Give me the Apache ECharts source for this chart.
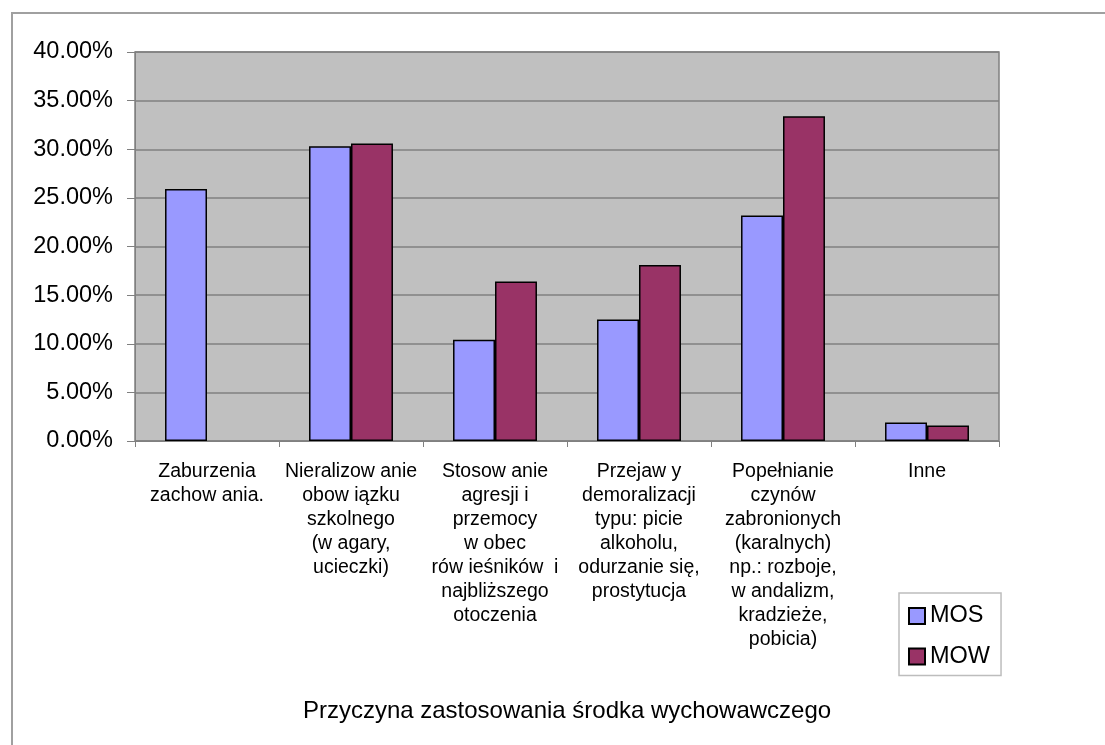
<!DOCTYPE html>
<html>
<head>
<meta charset="utf-8">
<script src="https://cdn.jsdelivr.net/npm/echarts@6/dist/echarts.min.js"></script>
<style>
  html, body { margin: 0; padding: 0; background: #ffffff; }
  #chart { width: 1105px; height: 745px; }
</style>
</head>
<body>
<div id="chart"></div>
<script>
const categories = [
  "Zaburzenia\nzachow ania.",
  "Nieralizow anie\nobow iązku\nszkolnego\n(w agary,\nucieczki)",
  "Stosow anie\nagresji i\nprzemocy\nw obec\nrów ieśników  i\nnajbliższego\notoczenia",
  "Przejaw y\ndemoralizacji\ntypu: picie\nalkoholu,\nodurzanie się,\nprostytucja",
  "Popełnianie\nczynów\nzabronionych\n(karalnych)\nnp.: rozboje,\nw andalizm,\nkradzieże,\npobicia)",
  "Inne"
];
const seriesNames = ["MOS", "MOW"];
const mosValues = [25.9, 30.3, 10.4, 12.5, 23.2, 1.9];
const mowValues = [null, 30.6, 16.4, 18.1, 33.4, 1.6];
const yTicks = { min: 0, max: 40, interval: 5 };
const xAxisTitle = "Przyczyna zastosowania środka wychowawczego";

const FONT = "'Liberation Sans', Arial, sans-serif";
const chart = echarts.init(document.getElementById('chart'), null, { renderer: 'canvas' });

const option = {
  backgroundColor: '#ffffff',
  animation: false,
  textStyle: { fontFamily: FONT },
  grid: {
    left: 135, top: 52, width: 864, height: 389,
    show: true, backgroundColor: '#c0c0c0', borderColor: '#808080', borderWidth: 1.5
  },
  legend: {
    orient: 'vertical',
    left: 899, top: 593,
    padding: [11, 11, 7, 9],
    backgroundColor: '#ffffff',
    borderColor: '#bdbdbd', borderWidth: 1.5,
    itemWidth: 16, itemHeight: 16, itemGap: 16.5,
    icon: 'rect',
    textStyle: { fontSize: 23.5, color: '#000', fontFamily: FONT },
    data: seriesNames
  },
  xAxis: {
    type: 'category',
    data: categories,
    axisLine: { show: true, lineStyle: { color: '#808080', width: 1 } },
    axisTick: { show: true, length: 6, alignWithLabel: false, lineStyle: { color: '#808080' } },
    axisLabel: {
      interval: 0, margin: 19, fontSize: 19.5, lineHeight: 24, color: '#000',
      fontFamily: FONT, overflow: 'none', align: 'center'
    },
    splitLine: { show: false }
  },
  yAxis: {
    type: 'value',
    min: yTicks.min, max: yTicks.max, interval: yTicks.interval,
    axisLine: { show: true, lineStyle: { color: '#808080', width: 1 } },
    axisTick: { show: true, length: 8, lineStyle: { color: '#808080' } },
    axisLabel: {
      margin: 22, fontSize: 23.5, color: '#000', fontFamily: FONT,
      formatter: v => v.toFixed(2) + '%'
    },
    splitLine: { show: true, lineStyle: { color: '#808080', width: 1.5 } }
  },
  series: [
    {
      name: seriesNames[0], type: 'bar', data: mosValues,
      barGap: '0%', barCategoryGap: '41.7%',
      itemStyle: { color: '#9999ff', borderColor: '#000000', borderWidth: 1.5 }
    },
    {
      name: seriesNames[1], type: 'bar', data: mowValues,
      barGap: '0%', barCategoryGap: '41.7%',
      itemStyle: { color: '#993366', borderColor: '#000000', borderWidth: 1.5 }
    }
  ],
  graphic: [
    {
      type: 'rect', z: -1, silent: true,
      shape: { x: 12, y: 13, width: 1100, height: 740 },
      style: { fill: 'none', stroke: '#a0a0a0', lineWidth: 2 }
    },
    {
      type: 'text', silent: true,
      x: 567, y: 711,
      style: {
        text: xAxisTitle, fontSize: 24, fill: '#000', fontFamily: FONT,
        textAlign: 'center', textVerticalAlign: 'middle'
      }
    }
  ]
};
chart.setOption(option);
</script>
</body>
</html>
